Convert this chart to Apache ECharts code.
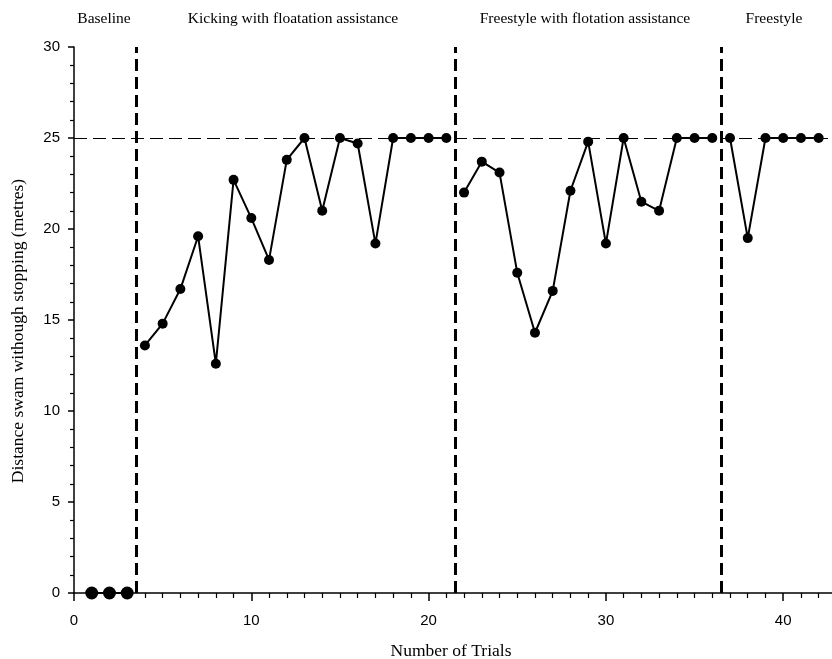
<!DOCTYPE html>
<html>
<head>
<meta charset="utf-8">
<script src="https://cdn.jsdelivr.net/npm/echarts@6/dist/echarts.min.js"></script>
<style>html,body{margin:0;padding:0;background:#fff}#c{width:832px;height:659px}</style>
</head>
<body>
<div id="c"></div>
<script>
// ---- data ----
const baselineTrials = [1, 2, 3];
const baselineDist = [0, 0, 0];
const kickingTrials = [4, 5, 6, 7, 8, 9, 10, 11, 12, 13, 14, 15, 16, 17, 18, 19, 20, 21];
const kickingDist = [13.6, 14.8, 16.7, 19.6, 12.6, 22.7, 20.6, 18.3, 23.8, 25, 21.0, 25, 24.7, 19.2, 25, 25, 25, 25];
const freeFloatTrials = [22, 23, 24, 25, 26, 27, 28, 29, 30, 31, 32, 33, 34, 35, 36];
const freeFloatDist = [22.0, 23.7, 23.1, 17.6, 14.3, 16.6, 22.1, 24.8, 19.2, 25, 21.5, 21.0, 25, 25, 25];
const freestyleTrials = [37, 38, 39, 40, 41, 42];
const freestyleDist = [25, 19.5, 25, 25, 25, 25];
const phaseChanges = [3.5, 21.5, 36.5];
const criterion = 25;
const phaseLabels = ['Baseline', 'Kicking with floatation assistance', 'Freestyle with flotation assistance', 'Freestyle'];
const xTitle = 'Number of Trials';
const yTitle = 'Distance swam withough stopping (metres)';

function pairs(xs, ys) { return xs.map((x, i) => [x, ys[i]]); }

const chart = echarts.init(document.getElementById('c'));
const serif = 'Liberation Serif';
const sans = 'Liberation Sans';

function phaseSeries(xs, ys, size, extra) {
  return Object.assign({
    type: 'line',
    data: pairs(xs, ys),
    symbol: 'circle',
    symbolSize: size,
    itemStyle: { color: '#000' },
    lineStyle: { color: '#000', width: 2 },
    z: 5
  }, extra || {});
}

const phaseLabelPos = [104, 293, 585, 774];

chart.setOption({
  animation: false,
  backgroundColor: '#fff',
  grid: { left: 74, top: 47, width: 886.5, height: 546, containLabel: false, outerBoundsMode: 'none' },
  xAxis: {
    type: 'value', min: 0, max: 50, interval: 10,
    axisLine: { show: true, lineStyle: { color: '#000', width: 1.5 } },
    axisTick: { show: true, length: 8, lineStyle: { color: '#000', width: 1.5 } },
    minorTick: { show: true, splitNumber: 10, length: 5, lineStyle: { color: '#000', width: 1.2 } },
    axisLabel: { color: '#000', fontFamily: sans, fontSize: 15, margin: 20, showMaxLabel: false },
    splitLine: { show: false }, minorSplitLine: { show: false }
  },
  yAxis: {
    type: 'value', min: 0, max: 30, interval: 5,
    axisLine: { show: true, lineStyle: { color: '#000', width: 1.5 } },
    axisTick: { show: true, length: 6, lineStyle: { color: '#000', width: 1.5 } },
    minorTick: { show: true, splitNumber: 5, length: 4, lineStyle: { color: '#000', width: 1.2 } },
    axisLabel: { color: '#000', fontFamily: sans, fontSize: 15, margin: 14 },
    splitLine: { show: false }, minorSplitLine: { show: false }
  },
  series: [
    phaseSeries(baselineTrials, baselineDist, 13, {
      markLine: {
        silent: true, symbol: ['none', 'none'], label: { show: false },
        data: phaseChanges.map(v => ({ xAxis: v, lineStyle: { color: '#000', width: 3, type: [12, 6] } }))
          .concat([{ yAxis: criterion, lineStyle: { color: '#000', width: 1, type: [13, 6] } }])
      }
    }),
    phaseSeries(kickingTrials, kickingDist, 10),
    phaseSeries(freeFloatTrials, freeFloatDist, 10),
    phaseSeries(freestyleTrials, freestyleDist, 10)
  ],
  graphic: phaseLabels.map((t, i) => ({
    type: 'text', x: phaseLabelPos[i], y: 19,
    style: { text: t, fontFamily: serif, fontSize: 15.5, fill: '#000', align: 'center', verticalAlign: 'middle' }
  })).concat([
    { type: 'text', x: 451, y: 651,
      style: { text: xTitle, fontFamily: serif, fontSize: 17.5, fill: '#000', align: 'center', verticalAlign: 'middle' } },
    { type: 'text', x: 18, y: 331, rotation: Math.PI / 2,
      style: { text: yTitle, fontFamily: serif, fontSize: 17.5, fill: '#000', align: 'center', verticalAlign: 'middle' } }
  ])
});
</script>
</body>
</html>
